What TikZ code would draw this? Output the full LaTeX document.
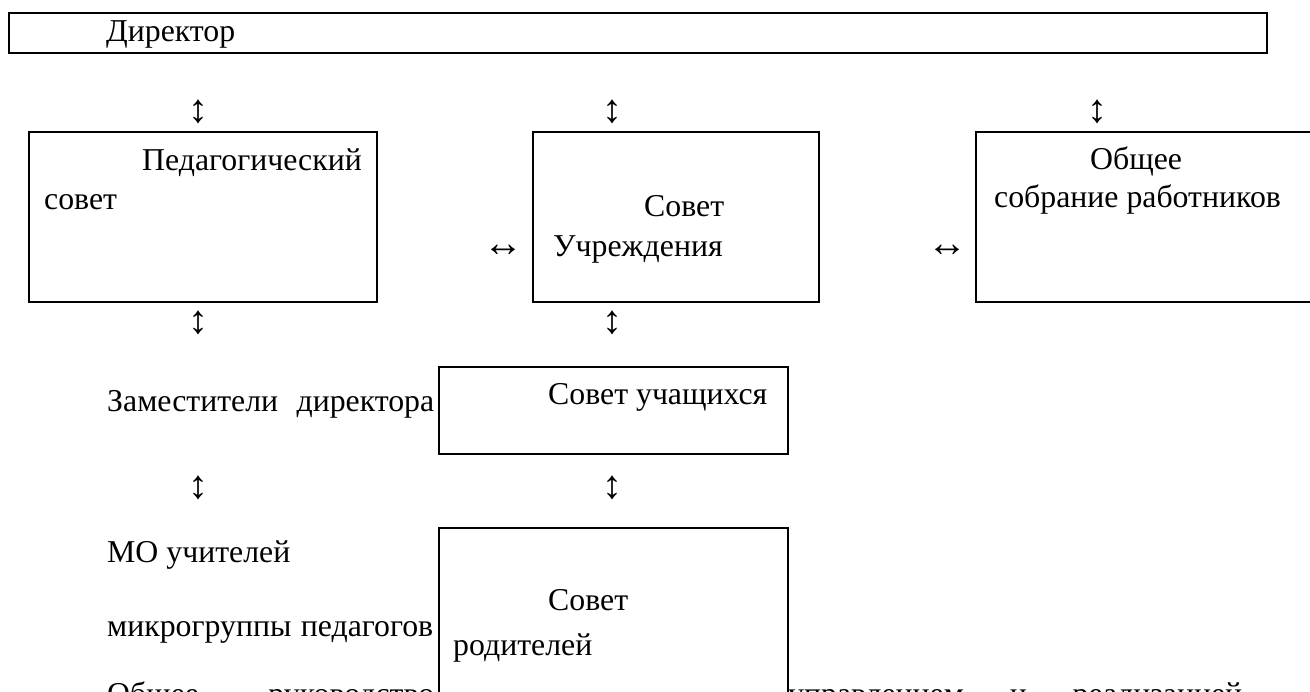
\documentclass[tikz,border=0pt]{standalone}
\usepackage{fontspec}
\setmainfont{Liberation Serif}
\begin{document}
\begin{tikzpicture}[x=1pt,y=-1pt,
  txt/.style={inner sep=0pt, anchor=base west, font=\fontsize{31.8}{38}\selectfont},
  box/.style={draw, line width=1.6pt, inner sep=0pt, anchor=north west},
  arr/.style={inner sep=0pt, anchor=center, font=\fontsize{40}{44}\selectfont}]
\useasboundingbox (0,0) rectangle (1310,692);
\clip (0,0) rectangle (1310,692);
% boxes
\node[box, minimum width=1258pt, minimum height=40pt] (dir) at (8,12) {};
\node[box, minimum width=348pt, minimum height=170pt] (ped) at (28,131) {};
\node[box, minimum width=286pt, minimum height=170pt] (sovu) at (532,131) {};
\node[box, minimum width=360pt, minimum height=170pt] (obsh) at (975,131) {};
\node[box, minimum width=349pt, minimum height=87pt] (uch) at (438,366) {};
\node[box, minimum width=349pt, minimum height=250pt] (rod) at (438,527) {};
% texts
\node[txt] (tdir) at (106,41.5) {Директор};
\node[txt] (tped1) at (142,171) {Педагогический};
\node[txt] (tped2) at (44,210) {совет};
\node[txt] (tsov1) at (644,217) {Совет};
\node[txt] (tsov2) at (553,257) {Учреждения};
\node[txt] (tob1) at (1090,170) {Общее};
\node[txt] (tob2) at (994,208) {собрание работников};
\node[txt] (tzam) at (107,412) {\makebox[327pt][s]{Заместители\hfill директора}};
\node[txt] (tuch) at (548,405) {Совет учащихся};
\node[txt] (tmo) at (107,562) {МО учителей};
\node[txt] (tmik) at (107,636) {\makebox[326pt][s]{микрогруппы\hfill педагогов}};
\node[txt] (trod1) at (548,610) {Совет};
\node[txt] (trod2) at (453,655) {родителей};
\node[txt] (tbot1) at (107,704) {\makebox[327pt][s]{Общее\hfill руководство}};
\node[txt] (tbot2) at (788,704) {\makebox[454pt][s]{управлением\hfill и\hfill реализацией}};
% arrow glyphs
\node[arr] (a1) at (198,111.5) {↕};
\node[arr] (a2) at (612,111.5) {↕};
\node[arr] (a3) at (1097,111.5) {↕};
\node[arr] (b1) at (198,322.5) {↕};
\node[arr] (b2) at (612,322.5) {↕};
\node[arr] (c1) at (198,487.5) {↕};
\node[arr] (c2) at (612,487.5) {↕};
\node[arr] (h1) at (503.5,250.5) {↔};
\node[arr] (h2) at (947.5,250.5) {↔};
\end{tikzpicture}
\end{document}
